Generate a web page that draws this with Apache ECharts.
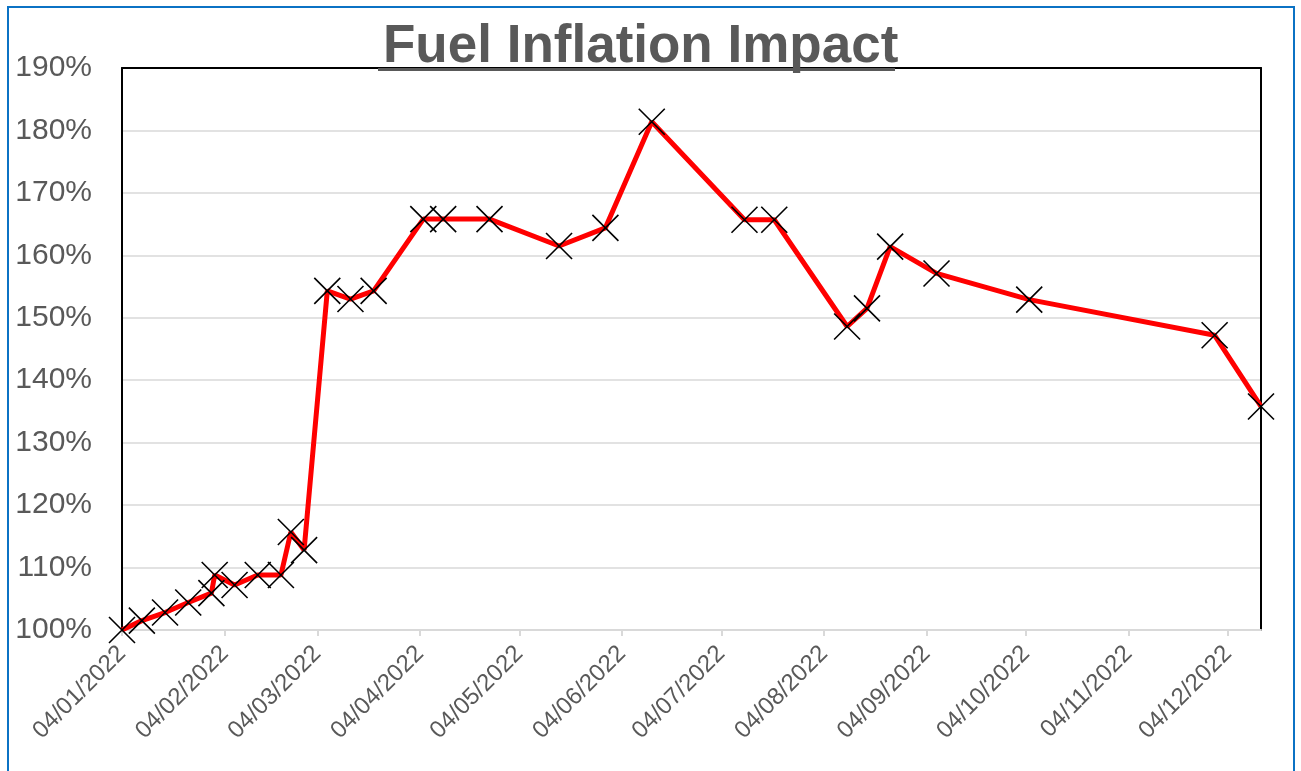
<!DOCTYPE html>
<html>
<head>
<meta charset="utf-8">
<title>Fuel Inflation Impact</title>
<script src="https://cdn.jsdelivr.net/npm/echarts@6/dist/echarts.min.js"></script>
<style>
  html, body { margin: 0; padding: 0; background: #fff; }
  #chart { width: 1301px; height: 771px; }
</style>
</head>
<body>
<div id="chart"></div>
<script>
// dates of each reading (yyyy-mm-dd) and the index in %
var readingDates = [
  '2022-01-04', '2022-01-10', '2022-01-17', '2022-01-24', '2022-01-31', '2022-02-01',
  '2022-02-07', '2022-02-14', '2022-02-21', '2022-02-24', '2022-02-28', '2022-03-07',
  '2022-03-14', '2022-03-21', '2022-04-05', '2022-04-11', '2022-04-25', '2022-05-16',
  '2022-05-30', '2022-06-13', '2022-07-11', '2022-07-20', '2022-08-11', '2022-08-17',
  '2022-08-24', '2022-09-07', '2022-10-05', '2022-11-30', '2022-12-14'
]
var fuelIndex = [
  100, 101.5, 102.8, 104.4, 105.9, 108.8,
  107.2, 108.8, 108.8, 115.7, 112.8, 154.3,
  153.0, 154.3, 165.8, 165.8, 165.8, 161.5,
  164.4, 181.4, 165.7, 165.7, 148.6, 151.5,
  161.4, 157.1, 152.9, 147.2, 135.8
]
// x axis ticks fall on the 4th of each month
var tickDates = [
  '2022-01-04', '2022-02-04', '2022-03-04', '2022-04-04', '2022-05-04', '2022-06-04',
  '2022-07-04', '2022-08-04', '2022-09-04', '2022-10-04', '2022-11-04', '2022-12-04'
]
var axisStart = '2022-01-04'
var axisEnd = '2022-12-14'

function toTime (s) {
  var p = s.split('-')
  return new Date(+p[0], +p[1] - 1, +p[2]).getTime()
}
function pad (n) { return n < 10 ? '0' + n : '' + n }
function fmtDate (t) {
  var dt = new Date(t)
  return pad(dt.getDate()) + '/' + pad(dt.getMonth() + 1) + '/' + dt.getFullYear()
}

var seriesData = readingDates.map(function (s, i) { return [toTime(s), fuelIndex[i]] })
var tickValues = tickDates.map(toTime)

var myChart = echarts.init(document.getElementById('chart'))
myChart.setOption({
  backgroundColor: '#fff',
  animation: false,
  title: {
    text: 'Fuel Inflation Impact',
    left: 378,
    top: 16,
    textStyle: {
      fontFamily: 'Liberation Sans',
      fontSize: 53,
      fontWeight: 'bold',
      color: '#595959'
    }
  },
  graphic: [
    // outer chart border
    { type: 'rect', z: 100, shape: { x: 8, y: 7, width: 1286, height: 800 },
      style: { fill: 'none', stroke: '#0b72c4', lineWidth: 2 } },
    // title underline
    { type: 'rect', z: 100, shape: { x: 378, y: 68, width: 517, height: 3 },
      style: { fill: '#595959' } }
  ],
  grid: {
    left: 122,
    right: 40,
    top: 68,
    bottom: 141,
    outerBoundsMode: 'none'
  },
  xAxis: [
    {
      // dates as timestamps on a value axis so the ticks can sit on the 4th
      type: 'value',
      min: toTime(axisStart),
      max: toTime(axisEnd),
      axisLine: { lineStyle: { color: '#d9d9d9', width: 2 } },
      axisTick: {
        show: true,
        customValues: tickValues,
        length: 6,
        lineStyle: { color: '#d9d9d9', width: 2 }
      },
      axisLabel: {
        customValues: tickValues,
        rotate: 45,
        margin: 20,
        fontFamily: 'Liberation Sans',
        fontSize: 24,
        color: '#595959',
        formatter: function (value) { return fmtDate(value) }
      },
      splitLine: { show: false }
    },
    {
      // top edge of the plot frame
      type: 'value',
      position: 'top',
      min: toTime(axisStart),
      max: toTime(axisEnd),
      axisLine: { show: true, lineStyle: { color: '#000', width: 2 } },
      axisTick: { show: false },
      axisLabel: { show: false },
      splitLine: { show: false }
    }
  ],
  yAxis: [
    {
      type: 'value',
      min: 100,
      max: 190,
      interval: 10,
      axisLine: { show: true, lineStyle: { color: '#000', width: 2 } },
      axisTick: { show: false },
      axisLabel: {
        margin: 30,
        fontFamily: 'Liberation Sans',
        fontSize: 30,
        color: '#595959',
        formatter: '{value}%'
      },
      splitLine: { lineStyle: { color: '#d9d9d9', width: 1.5 } }
    },
    {
      // right edge of the plot frame
      type: 'value',
      position: 'right',
      min: 100,
      max: 190,
      interval: 10,
      axisLine: { show: true, lineStyle: { color: '#000', width: 2 } },
      axisTick: { show: false },
      axisLabel: { show: false },
      splitLine: { show: false }
    }
  ],
  series: [
    {
      name: 'Fuel',
      type: 'line',
      data: seriesData,
      lineStyle: { color: '#ff0000', width: 5 },
      symbol: 'path://M0,0L10,10M10,0L0,10',
      symbolSize: 26,
      itemStyle: { color: 'none', borderColor: '#000', borderWidth: 1.6 },
      z: 3
    }
  ]
})
</script>
</body>
</html>
